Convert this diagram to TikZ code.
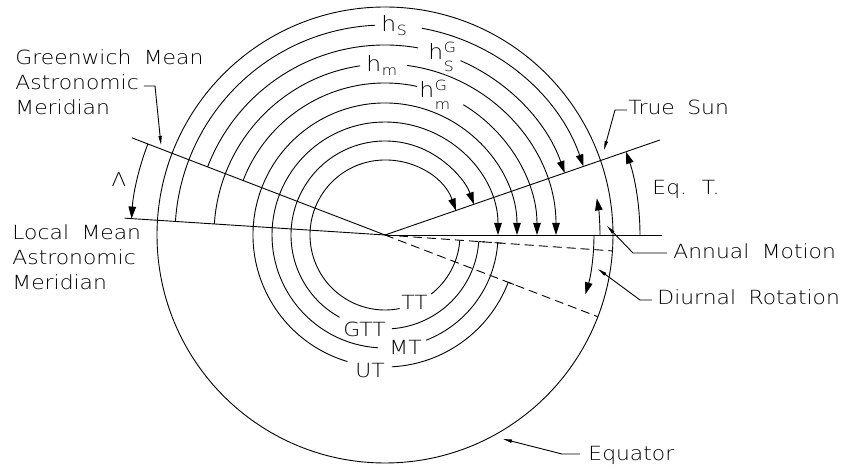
\documentclass[tikz,border=0pt]{standalone}
\usepackage{fontspec}
\usetikzlibrary{arrows.meta}
\newfontfamily\cad[FakeStretch=1.12,WordSpace=1.8]{DejaVu Sans ExtraLight}
\newcommand{\hsub}[1]{h\kern0.5pt\raisebox{-4pt}{\fontsize{14}{14}\selectfont #1}}
\newcommand{\hsubsup}[2]{h\kern0.5pt\makebox[0pt][l]{\raisebox{7pt}{\fontsize{14}{14}\selectfont #2}}\raisebox{-12pt}{\fontsize{14}{14}\selectfont #1}}
\tikzset{
  big/.style={-{Triangle[length=12pt,width=7.5pt]}},
  lead/.style={-{Triangle[length=9pt,width=3.2pt]}},
  dashline/.style={dash pattern=on 9pt off 5pt},
  txt/.style={inner sep=0pt,anchor=base west,font=\cad\fontsize{19.5}{23}\selectfont},
  ctxt/.style={inner sep=0pt,anchor=center,font=\cad\fontsize{19.5}{23}\selectfont},
  hl/.style={inner sep=0pt,anchor=base west,font=\cad\fontsize{21}{25}\selectfont},
}
\begin{document}
\begin{tikzpicture}[x=1pt,y=1pt,line width=0.9pt]
\useasboundingbox (-385,-235) rectangle (459,235);
% main geometry
\coordinate (O) at (0,0);
\coordinate (GW) at (159:271);
\coordinate (LM) at (176.3:261);
\coordinate (TS) at (19.06:291);
\coordinate (MS) at (0:277);
\coordinate (LL) at (-4:228);
\coordinate (GL) at (-21:228);
\draw (O) circle[radius=228];
\draw (O) -- (GW);
\draw (O) -- (LM);
\draw (O) -- (TS);
\draw (O) -- (MS);
\draw[dashline] (O) -- (LL);
\draw[dashline] (O) -- (GL);
% outer hour angle arcs
\draw (176.3:210) arc[start angle=176.3,end angle=92.7,radius=210];
\draw[big] (79.9:210) arc[start angle=79.9,end angle=19.06,radius=210];
\draw (159:190) arc[start angle=159,end angle=80,radius=190];
\draw[big] (66.6:190) arc[start angle=66.6,end angle=19.06,radius=190];
\draw (176.3:171) arc[start angle=176.3,end angle=98.4,radius=171];
\draw[big] (82.6:171) arc[start angle=82.6,end angle=0,radius=171];
\draw (159:152) arc[start angle=159,end angle=77.8,radius=152];
\draw[big] (59:152) arc[start angle=59,end angle=0,radius=152];
% inner time arcs
\draw (-4:75) arc[start angle=-4,end angle=-52,radius=75];
\draw[big] (-78.7:75) arc[start angle=-78.7,end angle=-340.94,radius=75];
\draw (-4:94) arc[start angle=-4,end angle=-85.8,radius=94];
\draw[big] (-118.9:94) arc[start angle=-118.9,end angle=-340.94,radius=94];
\draw (-4:113) arc[start angle=-4,end angle=-68.6,radius=113];
\draw[big] (-93.5:113) arc[start angle=-93.5,end angle=-360,radius=113];
\draw (-21:132) arc[start angle=-21,end angle=-87,radius=132];
\draw[big] (-106.5:132) arc[start angle=-106.5,end angle=-360,radius=132];
\draw (-4:94) -- (-4:100);
\draw (-4:110) -- (-4:117);
\draw (-21:132) -- (-21:138);
% other angle arcs
\draw[big] (159:254) arc[start angle=159,end angle=176.3,radius=254];
\draw[big] (0:255) arc[start angle=0,end angle=19.06,radius=255];
\draw[big] (0:215) arc[start angle=0,end angle=9.8,radius=215];
\draw[big] (0:209) arc[start angle=0,end angle=-16.5,radius=209];
% arc labels
\node[hl] (hs) at (-4,203) {\hsub{S}};
\node[hl] (hsg) at (43,175) {\hsubsup{S}{G}};
\node[hl] (hm) at (-19,163) {\hsub{m}};
\node[hl] (hmg) at (34,137) {\hsubsup{m}{G}};
\node[ctxt] (tt) at (29.5,-67.5) {TT};
\node[ctxt] (gtt) at (-20.5,-94.5) {GTT};
\node[ctxt] (mt) at (20.5,-112.5) {MT};
\node[ctxt] (ut) at (-15,-135.5) {UT};
\node[inner sep=0pt,font=\cad\fontsize{19}{21}\selectfont] (lam) at (-266,55) {Λ};
% text labels
\node[txt] (g1) at (-370,170) {Greenwich Mean};
\node[txt] (g2) at (-370,145) {Astronomic};
\node[txt] (g3) at (-370,120) {Meridian};
\node[txt] (l1) at (-373,-5) {Local Mean};
\node[txt] (l2) at (-373,-30) {Astronomic};
\node[txt] (l3) at (-373,-55) {Meridian};
\node[txt] (sun) at (243,120) {True Sun};
\node[txt] (eqt) at (267,40) {Eq. T.};
\node[txt] (ann) at (288,-24) {Annual Motion};
\node[txt] (diu) at (272,-70) {Diurnal Rotation};
\node[txt] (equ) at (203,-226) {Equator};
% leaders
\coordinate (gwa) at (-241,149);
\coordinate (gwb) at (-230,149);
\coordinate (gwt) at (-224,90);
\draw[lead] (gwa) -- (gwb) -- (gwt);
\coordinate (tsa) at (242,125);
\coordinate (tsb) at (230,125);
\coordinate (tst) at (219,85);
\draw[lead] (tsa) -- (tsb) -- (tst);
\coordinate (ana) at (282,-18);
\coordinate (anb) at (248,-18);
\coordinate (ant) at (222,9);
\draw[lead] (ana) -- (anb) -- (ant);
\coordinate (dia) at (267,-65);
\coordinate (dib) at (255,-65);
\coordinate (dit) at (213,-34);
\draw[lead] (dia) -- (dib) -- (dit);
\coordinate (eqa) at (195,-219);
\coordinate (eqb) at (177,-219);
\coordinate (eqtip) at (118,-204);
\draw[lead] (eqa) -- (eqb) -- (eqtip);
\end{tikzpicture}
\end{document}
